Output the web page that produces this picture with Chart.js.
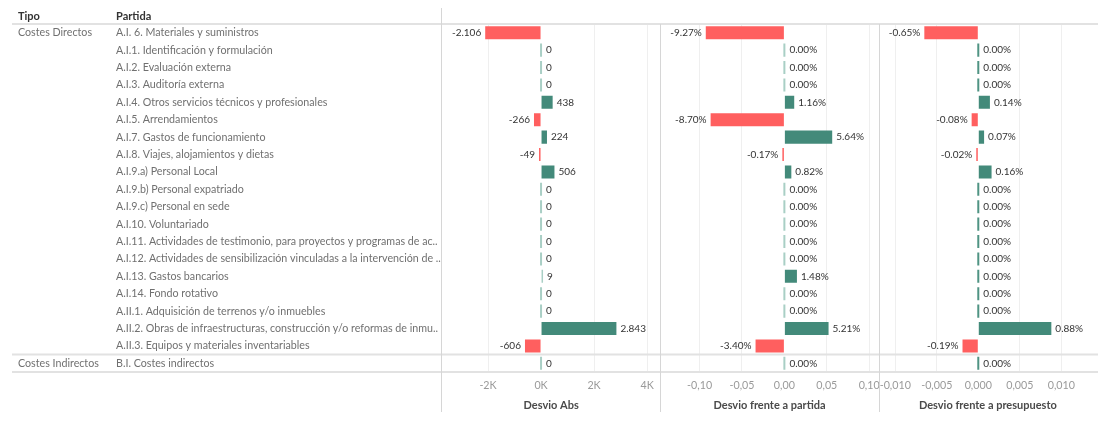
<!DOCTYPE html>
<html>
<head>
<meta charset="utf-8">
<script src="https://cdn.jsdelivr.net/npm/chart.js@4.4.0/dist/chart.umd.min.js"></script>
<style>
  html, body { margin: 0; padding: 0; background: #fff; }
  #wrap { width: 1098px; height: 423px; }
</style>
</head>
<body>
<div id="wrap"><canvas id="grafico" width="1098" height="423"></canvas></div>
<script>
// cabeceras de la tabla
const encabezados = ['Tipo', 'Partida'];

// columna Tipo (solo la primera fila de cada grupo lleva texto)
const tipos = [
    'Costes Directos', '', '', '', '', '', '', '', '', '', '', '', '', '', '', '', '', '', '',
    'Costes Indirectos'
];

const partidas = [
    'A.I. 6. Materiales y suministros',
    'A.I.1. Identificación y formulación',
    'A.I.2. Evaluación externa',
    'A.I.3. Auditoría externa',
    'A.I.4. Otros servicios técnicos y profesionales',
    'A.I.5. Arrendamientos',
    'A.I.7. Gastos de funcionamiento',
    'A.I.8. Viajes, alojamientos y dietas',
    'A.I.9.a) Personal Local',
    'A.I.9.b) Personal expatriado',
    'A.I.9.c) Personal en sede',
    'A.I.10. Voluntariado',
    'A.I.11. Actividades de testimonio, para proyectos y programas de ac..',
    'A.I.12. Actividades de sensibilización vinculadas a la intervención de ..',
    'A.I.13. Gastos bancarios',
    'A.I.14. Fondo rotativo',
    'A.II.1. Adquisición de terrenos y/o inmuebles',
    'A.II.2. Obras de infraestructuras, construcción y/o reformas de inmu..',
    'A.II.3. Equipos y materiales inventariables',
    'B.I. Costes indirectos'
];

const titulos = ['Desvio Abs', 'Desvio frente a partida', 'Desvio frente a presupuesto'];

const desvioAbs = [-2106, 0, 0, 0, 438, -266, 224, -49, 506, 0, 0, 0, 0, 0, 9, 0, 0, 2843, -606, 0];
const desvioPartida = [-0.0927, 0, 0, 0, 0.0116, -0.0870, 0.0564, -0.0017, 0.0082, 0, 0, 0, 0, 0, 0.0148, 0, 0, 0.0521, -0.0340, 0];
const desvioPresupuesto = [-0.0065, 0, 0, 0, 0.0014, -0.0008, 0.0007, -0.0002, 0.0016, 0, 0, 0, 0, 0, 0, 0, 0, 0.0088, -0.0019, 0];

// marcas de los ejes
const marcasAbs = [-2000, 0, 2000, 4000];
const marcasPartida = [-0.10, -0.05, 0, 0.05, 0.10];
const marcasPresupuesto = [-0.010, -0.005, 0, 0.005, 0.010];

const ROJO = '#ff5f5f';
const VERDE = '#438a7a';
const colorCero = ['#a9cfc5', '#a9cfc5', '#4f9383'];

const FUENTE = 'Lato, "Open Sans", sans-serif';
Chart.defaults.font.family = FUENTE;
Chart.defaults.font.size = 10.7;

function miles(v) {
    const s = Math.abs(v).toString().replace(/\B(?=(\d{3})+(?!\d))/g, '.');
    return (v < 0 ? '-' : '') + s;
}
function porcentaje(v) {
    return (v * 100).toFixed(2) + '%';
}
const formatos = [miles, porcentaje, porcentaje];

const formatosEje = [
    v => (v / 1000) + 'K',
    v => v.toFixed(2).replace('.', ','),
    v => v.toFixed(3).replace('.', ',')
];

// lineas de la tabla y cabeceras
const tabla = {
    id: 'tabla',
    beforeDatasetsDraw(chart) {
        const {ctx, chartArea, scales} = chart;
        const y = scales.y;
        const paso = y.getPixelForValue(1) - y.getPixelForValue(0);
        const arriba = y.getPixelForValue(0) - paso / 2;
        const abajo = y.getPixelForValue(partidas.length - 1) + paso / 2;

        ctx.save();
        ctx.strokeStyle = '#e2e2e2';
        ctx.lineWidth = 2;
        const lineaH = yy => {
            ctx.beginPath();
            ctx.moveTo(12, yy);
            ctx.lineTo(chart.width, yy);
            ctx.stroke();
        };
        lineaH(arriba);
        tipos.forEach((t, i) => {
            if (i > 0 && t !== '') lineaH(y.getPixelForValue(i) - paso / 2);
        });
        lineaH(abajo);

        ctx.strokeStyle = '#d6d6d6';
        ctx.lineWidth = 1;
        ctx.beginPath();
        ctx.moveTo(Math.round(chartArea.left) - 0.5, 8);
        ctx.lineTo(Math.round(chartArea.left) - 0.5, 412);
        ['x2', 'x3'].forEach(id => {
            const xx = Math.round(scales[id].left) + 0.5;
            ctx.moveTo(xx, arriba);
            ctx.lineTo(xx, 412);
        });
        ctx.stroke();

        ctx.fillStyle = '#333';
        ctx.font = 'bold 11px ' + FUENTE;
        ctx.textBaseline = 'middle';
        ctx.textAlign = 'left';
        ctx.fillText(encabezados[0], scales.yTipo.left, 16);
        ctx.fillText(encabezados[1], scales.y.left, 16);
        ctx.restore();
    }
};

// etiquetas de valor junto a cada barra
const etiquetasValor = {
    id: 'etiquetasValor',
    afterDatasetsDraw(chart) {
        const ctx = chart.ctx;
        ctx.save();
        ctx.font = '10px ' + FUENTE;
        ctx.fillStyle = '#333';
        ctx.textBaseline = 'middle';
        chart.data.datasets.forEach((ds, i) => {
            chart.getDatasetMeta(i).data.forEach((bar, j) => {
                const v = ds.data[j];
                const texto = formatos[i](v);
                if (v < 0) {
                    ctx.textAlign = 'right';
                    ctx.fillText(texto, Math.min(bar.x, bar.base) - 4, bar.y);
                } else {
                    ctx.textAlign = 'left';
                    ctx.fillText(texto, Math.max(bar.x, bar.base) + 4, bar.y);
                }
            });
        });
        ctx.restore();
    }
};

function colorBarra(i) {
    return function(c) {
        const v = c.raw;
        if (v < 0) return ROJO;
        const s = c.chart.scales['x' + (i + 1)];
        if (v === 0 || (s && Math.abs(s.getPixelForValue(v) - s.getPixelForValue(0)) < 1)) {
            return colorCero[i];
        }
        return VERDE;
    };
}

const marcas = [marcasAbs, marcasPartida, marcasPresupuesto];

function ejeX(i, min, max) {
    return {
        type: 'linear',
        axis: 'x',
        position: 'bottom',
        stack: 'medidas',
        stackWeight: 1,
        min: min,
        max: max,
        afterBuildTicks(s) {
            s.ticks = marcas[i].map(v => ({ value: v }));
        },
        grid: {
            drawTicks: false,
            color: c => (c.tick && c.tick.value === 0) ? 'rgba(0,0,0,0)' : '#efefef'
        },
        border: { display: false },
        ticks: {
            autoSkip: false,
            maxRotation: 0,
            minRotation: 0,
            padding: 7,
            color: '#9a9a9a',
            callback: v => formatosEje[i](v)
        },
        title: {
            display: true,
            text: titulos[i],
            color: '#4a4a4a',
            font: { weight: 'bold', size: 11 },
            padding: { top: 4, bottom: 11 }
        },
        afterFit(s) {
            s.height = 51;
            s.paddingLeft = 0;
            s.paddingRight = 0;
        }
    };
}

const series = [desvioAbs, desvioPartida, desvioPresupuesto];

const chart = new Chart(document.getElementById('grafico'), {
    type: 'bar',
    data: {
        labels: partidas,
        datasets: series.map((d, i) => ({
            label: titulos[i],
            data: d,
            xAxisID: 'x' + (i + 1),
            yAxisID: 'y',
            grouped: false,
            barPercentage: 0.75,
            categoryPercentage: 1,
            minBarLength: 2,
            backgroundColor: colorBarra(i)
        }))
    },
    options: {
        indexAxis: 'y',
        responsive: false,
        animation: false,
        devicePixelRatio: 1,
        layout: { padding: { top: 24, left: 18, right: 1, bottom: 0 } },
        plugins: {
            legend: { display: false },
            tooltip: { enabled: false }
        },
        scales: {
            y: {
                type: 'category',
                position: 'left',
                weight: 0,
                offset: true,
                grid: { display: false },
                border: { display: false },
                ticks: { crossAlign: 'far', autoSkip: false, color: '#707070' },
                afterFit(s) {
                    s.width = 326;
                    s.paddingTop = 0;
                    s.paddingBottom = 0;
                }
            },
            yTipo: {
                type: 'category',
                axis: 'y',
                position: 'left',
                weight: 1,
                labels: tipos,
                offset: true,
                grid: { display: false },
                border: { display: false },
                ticks: { crossAlign: 'far', autoSkip: false, color: '#707070' },
                afterFit(s) {
                    s.width = 98;
                    s.paddingTop = 0;
                    s.paddingBottom = 0;
                }
            },
            x1: ejeX(0, -3736, 4500),
            x2: ejeX(1, -0.1463, 0.1112),
            x3: ejeX(2, -0.0120, 0.0143)
        }
    },
    plugins: [tabla, etiquetasValor]
});
</script>
</body>
</html>
